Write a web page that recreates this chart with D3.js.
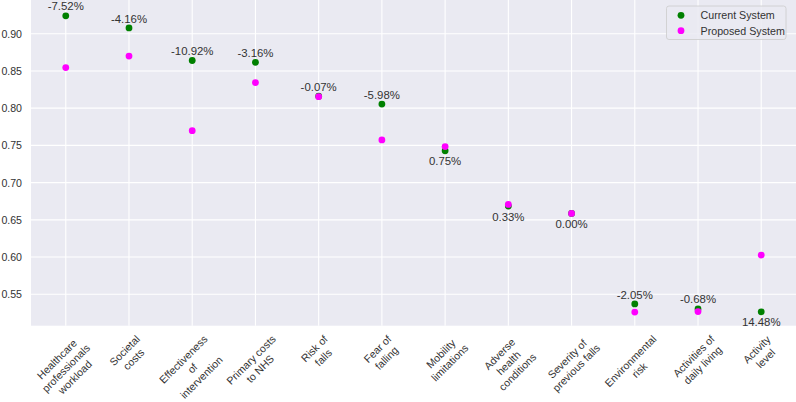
<!DOCTYPE html>
<html>
<head>
<meta charset="utf-8">
<script src="https://cdn.jsdelivr.net/npm/d3@7"></script>
<style>
html,body{margin:0;padding:0;background:#fff;}
svg{display:block;}
text{font-family:"Liberation Sans",Arial,Helvetica,sans-serif;}
</style>
</head>
<body>
<svg id="chart" width="796" height="402"></svg>
<script>
const categories = [
  "Healthcare\nprofessionals\nworkload",
  "Societal\ncosts",
  "Effectiveness\nof\nintervention",
  "Primary costs\nto NHS",
  "Risk of\nfalls",
  "Fear of\nfalling",
  "Mobility\nlimitations",
  "Adverse\nhealth\nconditions",
  "Severity of\nprevious falls",
  "Environmental\nrisk",
  "Activities of\ndaily living",
  "Activity\nlevel"
];
const currentSystem = [0.924, 0.9077, 0.864, 0.8616, 0.8160, 0.8055, 0.7428, 0.6685, 0.6586, 0.5371, 0.5304, 0.5265];
const proposedSystem = [0.8545, 0.8700, 0.7697, 0.8344, 0.8154, 0.7573, 0.7484, 0.6707, 0.6586, 0.5261, 0.5268, 0.6027];
const changes = [-7.52, -4.16, -10.92, -3.16, -0.07, -5.98, 0.75, 0.33, 0.00, -2.05, -0.68, 14.48];
const yTicks = [0.55, 0.60, 0.65, 0.70, 0.75, 0.80, 0.85, 0.90];
const seriesNames = ["Current System", "Proposed System"];
const seriesColors = ["#008000", "#ff00ff"];

const svg = d3.select("#chart");
const plot = {left: 31, right: 796, top: 0, bottom: 325.7};

const x = d3.scaleLinear().domain([-0.55, categories.length - 1 + 0.55]).range([plot.left, plot.right]);
const y = d3.scaleLinear().domain([0.50783, 0.94526]).range([plot.bottom, plot.top]);

// background
svg.append("rect")
  .attr("x", plot.left).attr("y", plot.top)
  .attr("width", plot.right - plot.left).attr("height", plot.bottom - plot.top)
  .attr("fill", "#eaeaf2");

// grid
const grid = svg.append("g");
grid.selectAll("line.h").data(yTicks).enter().append("line")
  .attr("x1", plot.left).attr("x2", plot.right)
  .attr("y1", d => y(d)).attr("y2", d => y(d))
  .attr("stroke", "#fff").attr("stroke-width", 1.1);
grid.selectAll("line.v").data(categories.map((c, i) => i)).enter().append("line")
  .attr("y1", plot.top).attr("y2", plot.bottom)
  .attr("x1", d => x(d)).attr("x2", d => x(d))
  .attr("stroke", "#fff").attr("stroke-width", 1.1);

// y axis labels
const yAxis = d3.axisLeft(y).tickValues(yTicks).tickFormat(d3.format(".2f")).tickSize(0).tickPadding(9);
const yg = svg.append("g").attr("transform", `translate(${plot.left},0)`).call(yAxis);
yg.select(".domain").remove();
yg.selectAll("text").attr("font-size", "10.6px").attr("fill", "#333").attr("font-family", '"Liberation Sans",Arial,sans-serif');

// x labels (rotated multiline)
const labelTop = plot.bottom + 7;
const fs = 10.6, lh = fs * 1.2;
categories.forEach((cat, i) => {
  const lines = cat.split("\n");
  const g = svg.append("g");
  const t = g.append("text").attr("font-size", fs + "px").attr("fill", "#333").attr("text-anchor", "middle");
  lines.forEach((ln, k) => {
    t.append("tspan").attr("x", 0).attr("y", k * lh).text(ln);
  });
  const b = t.node().getBBox();
  const cx = b.x + b.width / 2, cy = b.y + b.height / 2;
  const H = (b.width + b.height) / Math.SQRT2;
  g.attr("transform", `translate(${x(i)},${labelTop + H / 2}) rotate(-45) translate(${-cx},${-cy})`);
});

// points
const r = 3.4;
svg.append("g").selectAll("circle").data(currentSystem).enter().append("circle")
  .attr("cx", (d, i) => x(i)).attr("cy", d => y(d)).attr("r", r).attr("fill", seriesColors[0]);
svg.append("g").selectAll("circle").data(proposedSystem).enter().append("circle")
  .attr("cx", (d, i) => x(i)).attr("cy", d => y(d)).attr("r", r).attr("fill", seriesColors[1]);

// annotations
svg.append("g").selectAll("text").data(changes).enter().append("text")
  .attr("x", (d, i) => x(i))
  .attr("y", (d, i) => y(currentSystem[i]) + (d < 0 ? -9.5 : 10.5))
  .attr("dy", "0.36em")
  .attr("text-anchor", "middle")
  .attr("font-size", "11.4px")
  .attr("fill", "#333")
  .text(d => d.toFixed(2) + "%");

// legend
const lg = svg.append("g");
lg.append("rect").attr("x", 666.5).attr("y", 6).attr("width", 119.5).attr("height", 33.5)
  .attr("rx", 2.5).attr("fill", "#eaeaf2").attr("fill-opacity", 0.85)
  .attr("stroke", "#cccccc").attr("stroke-width", 0.8);
seriesNames.forEach((name, k) => {
  const yy = 15.3 + k * 15.4;
  lg.append("circle").attr("cx", 681).attr("cy", yy).attr("r", r).attr("fill", seriesColors[k]);
  lg.append("text").attr("x", 700.5).attr("y", yy).attr("dy", "0.36em")
    .attr("font-size", "10.7px").attr("fill", "#333").text(name);
});
</script>
</body>
</html>
